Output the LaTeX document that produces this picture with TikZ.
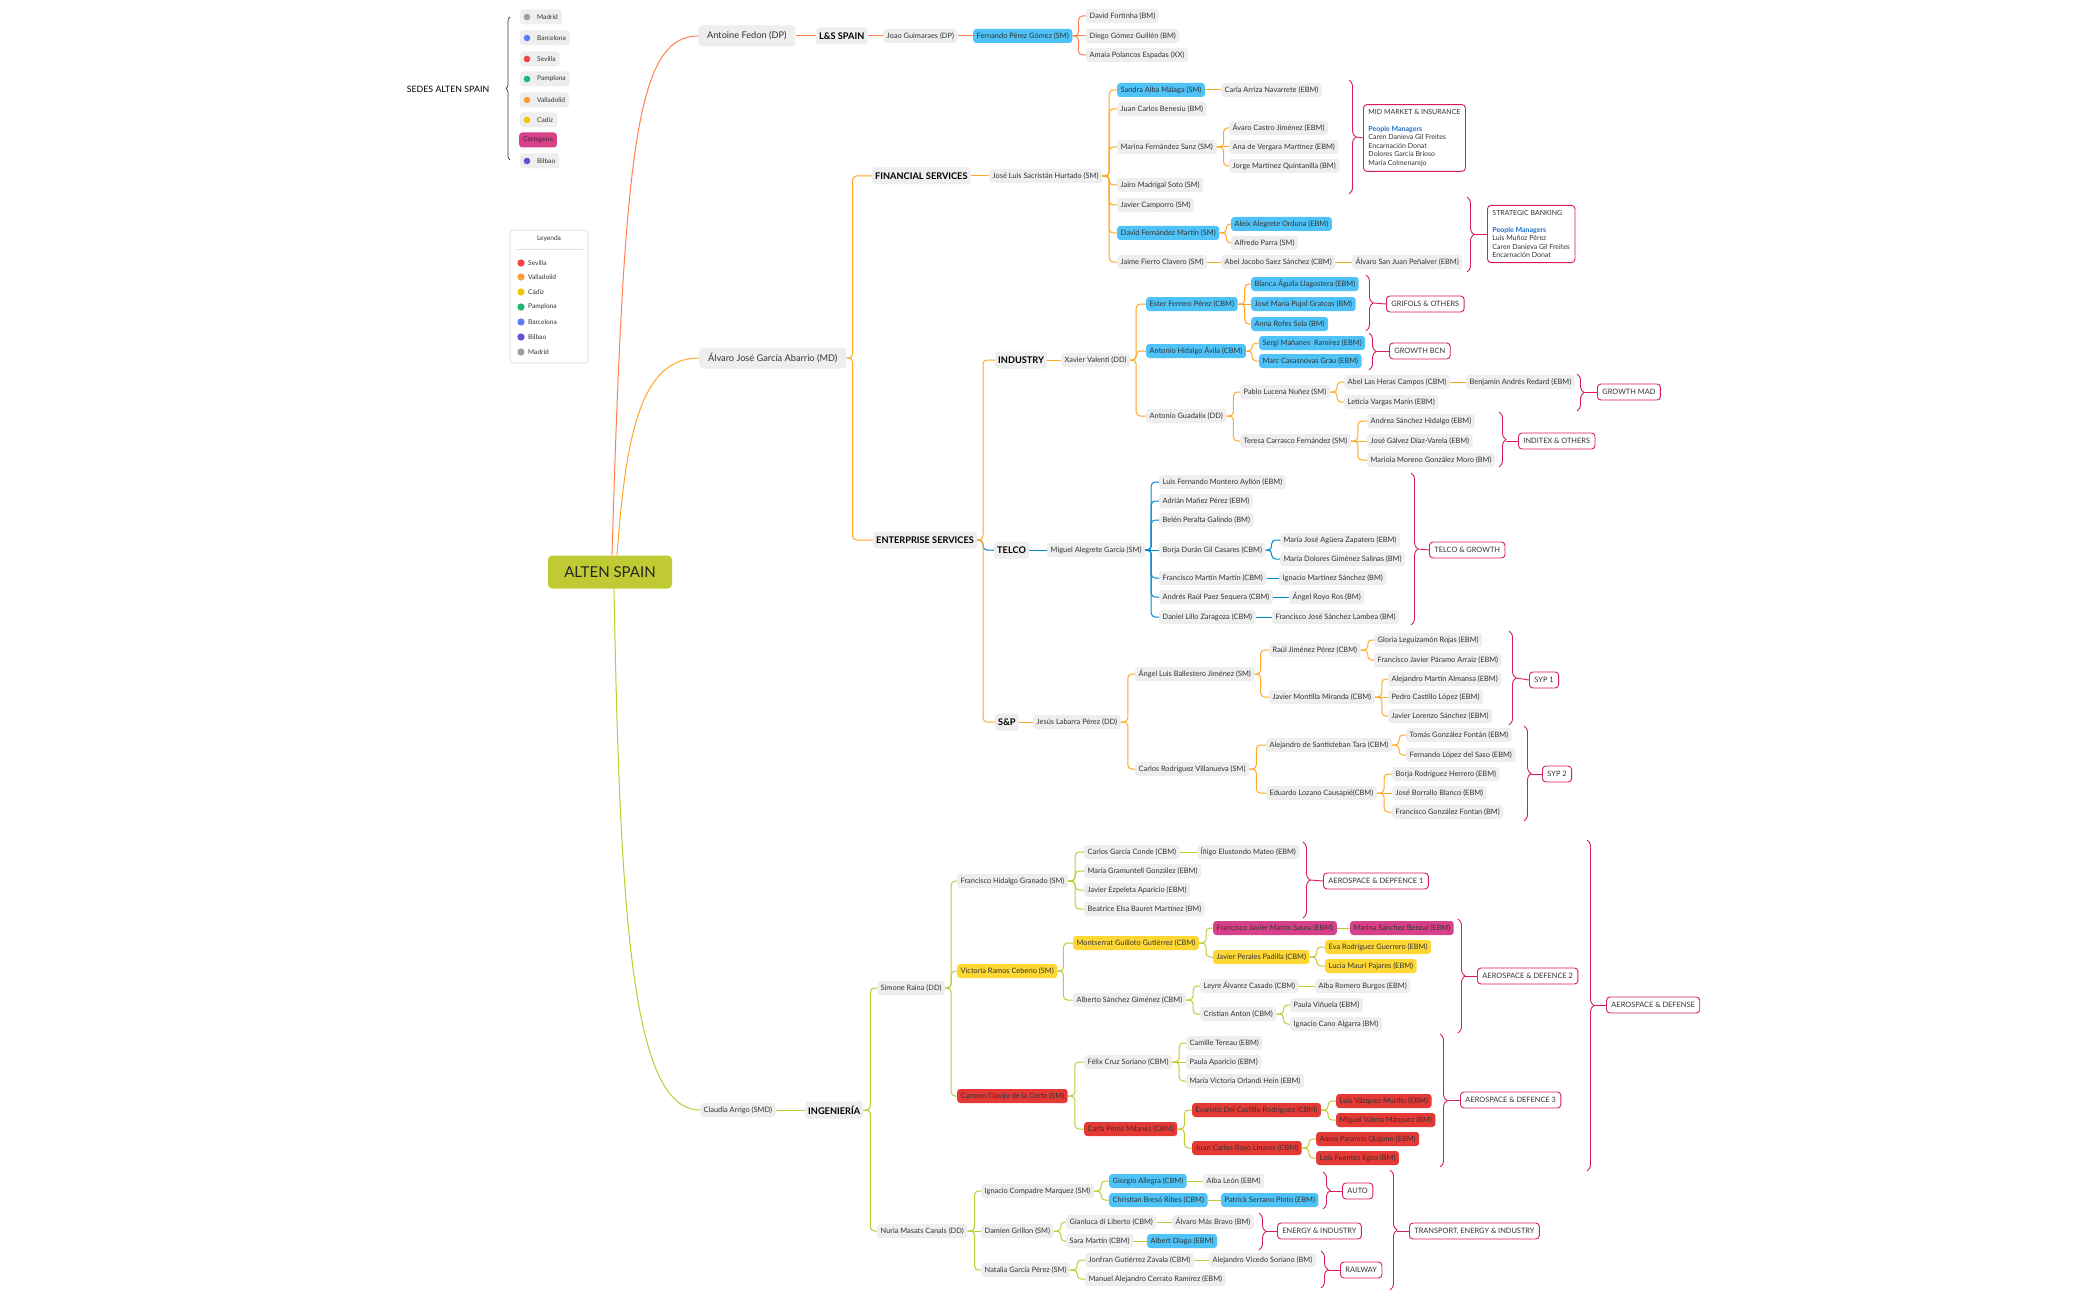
\documentclass[tikz,border=0pt]{standalone}
\usepackage{fontspec}
\setmainfont{Lato}
\usepackage{xcolor}
\usepackage{tikz}
\usetikzlibrary{decorations.pathreplacing}

\definecolor{boxgray}{HTML}{EEEEEE}
\definecolor{txtgray}{HTML}{333333}
\definecolor{skyfill}{HTML}{4FC3F7}
\definecolor{sunfill}{HTML}{FDD835}
\definecolor{redfill}{HTML}{E53935}
\definecolor{magfill}{HTML}{D6418A}
\definecolor{tagpink}{HTML}{D81B60}
\definecolor{pmblue}{HTML}{1E70C8}
\definecolor{coralline}{HTML}{FF7F50}
\definecolor{amberline}{HTML}{FFA726}
\definecolor{telblue}{HTML}{0288D1}
\definecolor{limeline}{HTML}{C0CA33}
\definecolor{cgray}{HTML}{9E9E9E}
\definecolor{cblue}{HTML}{5C7CFA}
\definecolor{cred}{HTML}{F44242}
\definecolor{cgreen}{HTML}{1DB574}
\definecolor{corange}{HTML}{FF9A3C}
\definecolor{cyellow}{HTML}{F2C500}
\definecolor{cpurple}{HTML}{6B4BCF}

\begin{document}
\begin{tikzpicture}[x=1pt, y=-1pt,
  pp/.style={fill=boxgray, rounded corners=3pt, anchor=west, font=\fontsize{7.4}{8.5}\selectfont, text=txtgray, inner xsep=3.5pt, inner ysep=1pt, minimum height=14pt},
  pblue/.style={pp, fill=skyfill},
  pyel/.style={pp, fill=sunfill},
  pred/.style={pp, fill=redfill},
  pmag/.style={pp, fill=magfill},
  lead/.style={pp, font=\fontsize{9.2}{10.5}\selectfont, inner xsep=9pt, minimum height=21pt, rounded corners=4pt},
  area/.style={pp, font=\fontsize{9.2}{10.5}\selectfont\bfseries, text=black, inner xsep=3pt, minimum height=17pt},
  rootbox/.style={fill=limeline, rounded corners=4pt, minimum width=124pt, minimum height=33pt, font=\fontsize{15}{17}\selectfont, text=black!85},
  tag/.style={draw=tagpink, line width=0.9pt, fill=white, rounded corners=3.5pt, anchor=west, font=\fontsize{7.4}{8.5}\selectfont, text=txtgray, inner xsep=5pt, minimum height=16pt},
  bracket/.style={draw=tagpink, line width=0.9pt, decorate, decoration={brace, amplitude=7pt}},
  tagline/.style={draw=tagpink, line width=0.9pt},
  sede/.style={pp, font=\fontsize{6.6}{7.5}\selectfont, inner xsep=4pt, minimum height=15pt},
  lsline/.style={draw=coralline, line width=1pt, rounded corners=4pt},
  finline/.style={draw=amberline, line width=1pt, rounded corners=4pt},
  telline/.style={draw=telblue, line width=1pt, rounded corners=4pt},
  engline/.style={draw=limeline, line width=1pt, rounded corners=4pt}
]
\fill[white] (0,0) rectangle (2099,1300);
\useasboundingbox (0,0) rectangle (2099,1300);

% sedes
\node[font=\fontsize{8.8}{10}\selectfont, text=black] (sedes) at (448,89) {SEDES ALTEN SPAIN};
\draw[decorate, decoration={brace, amplitude=4pt}, line width=0.7pt, draw=txtgray] (510,160) -- (510,17);
\foreach \nm/\cl/\yy in {Madrid/cgray/17, Barcelona/cblue/38, Sevilla/cred/59, Pamplona/cgreen/79, Valladolid/corange/100, Cadiz/cyellow/120, Bilbao/cpurple/161} {
  \node[sede] (s\nm) at (520,\yy) {\hspace*{13pt}\nm};
  \fill[\cl] ([xshift=7pt]s\nm.west) circle (3.3pt);
}
\node[sede, fill=magfill] (sCartagena) at (519,140) {Cartagena};

% leyenda
\node[draw=gray!30, line width=0.6pt, rounded corners=3pt, minimum width=78pt, minimum height=133pt] (leyenda) at (549,296.5) {};
\node[font=\fontsize{6.6}{7.5}\selectfont, text=txtgray] (leytit) at (549,239) {Leyenda};
\draw[gray!25, line width=0.6pt] (516,249) -- (583,249);
\foreach \nm/\cl/\yy [count=\i] in {Sevilla/cred/263, Valladolid/corange/277, Cádiz/cyellow/292, Pamplona/cgreen/307, Barcelona/cblue/322, Bilbao/cpurple/337, Madrid/cgray/352} {
  \fill[\cl] (521,\yy) circle (3.6pt);
  \node[anchor=west, font=\fontsize{6.6}{7.5}\selectfont, text=txtgray, inner sep=0pt] (ley\i) at (528,\yy) {\nm};
}

% root
\node[rootbox] (alten) at (610,572) {ALTEN SPAIN};

% L&S
\node[lead] (antoine) at (698,36) {Antoine Fedon (DP)};
\node[area] (ls) at (816,36) {L\&S SPAIN};
\node[pp] (joao) at (883,36) {Joao Guimaraes (DP)};
\node[pblue] (fernando) at (973,36) {Fernando Pérez Gómez (SM)};
\node[pp] (dfortinha) at (1086,16) {David Fortinha (BM)};
\node[pp] (dgomez) at (1086,36) {Diego Gómez Guillén (BM)};
\node[pp] (apolancos) at (1086,55) {Amaia Polancos Espadas (XX)};

% financial services
\node[lead] (alvaro) at (699,358) {Álvaro José García Abarrio (MD)};
\node[area] (finserv) at (872,176) {FINANCIAL SERVICES};
\node[pp] (sacristan) at (989,176) {José Luis Sacristán Hurtado (SM)};
\node[pblue] (sandra) at (1117,90) {Sandra Alba Málaga (SM)};
\node[pp] (benesiu) at (1117,109) {Juan Carlos Benesiu (BM)};
\node[pp] (marinaf) at (1117,147) {Marina Fernández Sanz (SM)};
\node[pp] (jairo) at (1117,185) {Jairo Madrigal Soto (SM)};
\node[pp] (camporro) at (1117,205) {Javier Camporro (SM)};
\node[pblue] (davidf) at (1117,233) {David Fernández Martín (SM)};
\node[pp] (jaime) at (1117,262) {Jaime Fierro Clavero (SM)};
\node[pp] (carla) at (1221,90) {Carla Arriza Navarrete (EBM)};
\node[pp] (avaro) at (1229,128) {Ávaro Castro Jiménez (EBM)};
\node[pp] (anav) at (1229,147) {Ana de Vergara Martínez (EBM)};
\node[pp] (jorgem) at (1229,166) {Jorge Martínez Quintanilla (BM)};
\node[pblue] (aleix) at (1231,224) {Aleix Alegrete Orduna (EBM)};
\node[pp] (alfredo) at (1231,243) {Alfredo Parra (SM)};
\node[pp] (abelj) at (1221,262) {Abel Jacobo Saez Sánchez (CBM)};
\node[pp] (alvarosj) at (1352,262) {Álvaro San Juan Peñalver (EBM)};

\draw[bracket] (1349,80) -- (1349,194);
\coordinate (midTip) at (1356,137);
\node[tag, align=left, inner ysep=5pt, font=\fontsize{7}{8.4}\selectfont] (midmkt) at (1363,138)
  {MID MARKET \& INSURANCE\\[8.4pt]\textcolor{pmblue}{\bfseries People Managers}\\Caren Danieva Gil Freites\\Encarnación Donat\\Dolores García Brioso\\María Colmenarejo};
\draw[bracket] (1467,197) -- (1467,272);
\coordinate (stratTip) at (1474,234);
\node[tag, align=left, inner ysep=5pt, font=\fontsize{7}{8.4}\selectfont] (strat) at (1487,234)
  {STRATEGIC BANKING\\[8.4pt]\textcolor{pmblue}{\bfseries People Managers}\\Luis Muñoz Pérez\\Caren Danieva Gil Freites\\Encarnación Donat};

% enterprise services
\node[area] (entserv) at (873,540) {ENTERPRISE SERVICES};

% industry
\node[area] (industry) at (995,360) {INDUSTRY};
\node[pp] (valenti) at (1061,360) {Xavier Valenti (DD)};
\node[pblue] (esterf) at (1146,304) {Ester Ferrero Pérez (CBM)};
\node[pblue] (antonioh) at (1146,351) {Antonio Hidalgo Ávila (CBM)};
\node[pp] (guadalix) at (1146,416) {Antonio Guadalix (DD)};
\node[pblue] (blanca) at (1251,284) {Blanca Águila Llagostera (EBM)};
\node[pblue] (pujol) at (1251,304) {José María Pujol Gratcos (BM)};
\node[pblue] (rofes) at (1251,324) {Anna Rofes Sola (BM)};
\node[pblue] (sergi) at (1259,343) {Sergi Mañanes~ Ramírez (EBM)};
\node[pblue] (marc) at (1259,361) {Marc Casasnovas Grau (EBM)};
\node[pp] (pablo) at (1240,392) {Pablo Lucena Nuñez (SM)};
\node[pp] (teresa) at (1240,441) {Teresa Carrasco Fernández (SM)};
\node[pp] (abelh) at (1344,382) {Abel Las Heras Campos (CBM)};
\node[pp] (leticia) at (1344,402) {Leticia Vargas Marín (EBM)};
\node[pp] (benjamin) at (1466,382) {Benjamin Andrés Redard (EBM)};
\node[pp] (andrea) at (1367,421) {Andrea Sánchez Hidalgo (EBM)};
\node[pp] (galvez) at (1367,441) {José Gálvez Díaz-Varela (EBM)};
\node[pp] (mariola) at (1367,460) {Mariola Moreno González Moro (BM)};

\draw[bracket] (1366,275) -- (1366,331);
\coordinate (grifTip) at (1373,303);
\node[tag] (grifols) at (1386,304) {GRIFOLS \& OTHERS};
\draw[bracket] (1369,333) -- (1369,370);
\coordinate (bcnTip) at (1376,351);
\node[tag] (growbcn) at (1389,351) {GROWTH BCN};
\draw[bracket] (1577,374) -- (1577,411);
\coordinate (madTip) at (1584,392);
\node[tag] (growmad) at (1597,392) {GROWTH MAD};
\draw[bracket] (1499,412) -- (1499,467);
\coordinate (inditTip) at (1506,441);
\node[tag] (inditex) at (1518,441) {INDITEX \& OTHERS};

% telco
\node[area] (telco) at (994,550) {TELCO};
\node[pp] (miguel) at (1047,550) {Miguel Alegrete García (SM)};
\node[pp] (luisf) at (1159,482) {Luis Fernando Montero Ayllón (EBM)};
\node[pp] (adrian) at (1159,501) {Adrián Mañez Pérez (EBM)};
\node[pp] (belen) at (1159,520) {Belén Peralta Galindo (BM)};
\node[pp] (borjad) at (1159,550) {Borja Durán Gil Casares (CBM)};
\node[pp] (franm) at (1159,578) {Francisco Martín Martín (CBM)};
\node[pp] (andres) at (1159,597) {Andrés Raúl Paez Sequera (CBM)};
\node[pp] (daniel) at (1159,617) {Daniel Lillo Zaragoza (CBM)};
\node[pp] (mjaguera) at (1280,540) {María José Agüera Zapatero (EBM)};
\node[pp] (mdgimenez) at (1280,559) {María Dolores Giménez Salinas (BM)};
\node[pp] (ignaciom) at (1279,578) {Ignacio Martínez Sánchez (BM)};
\node[pp] (angelr) at (1289,597) {Ángel Royo Ros (BM)};
\node[pp] (fjlambea) at (1272,617) {Francisco José Sánchez Lambea (BM)};

\draw[bracket] (1411,473) -- (1411,625);
\coordinate (telTip) at (1418,549);
\node[tag] (telgrowth) at (1429,550) {TELCO \& GROWTH};

% s&p
\node[area] (syp) at (995,722) {S\&P};
\node[pp] (labarra) at (1033,722) {Jesús Labarra Pérez (DD)};
\node[pp] (angelb) at (1135,674) {Ángel Luis Ballestero Jiménez (SM)};
\node[pp] (carlosr) at (1135,769) {Carlos Rodríguez Villanueva (SM)};
\node[pp] (raulj) at (1269,650) {Raúl Jiménez Pérez (CBM)};
\node[pp] (montilla) at (1269,697) {Javier Montilla Miranda (CBM)};
\node[pp] (gloria) at (1374,640) {Gloria Leguizamón Rojas (EBM)};
\node[pp] (paramo) at (1374,660) {Francisco Javier Páramo Arraiz (EBM)};
\node[pp] (almansa) at (1388,679) {Alejandro Martín Almansa (EBM)};
\node[pp] (castillo) at (1388,697) {Pedro Castillo López (EBM)};
\node[pp] (lorenzo) at (1388,716) {Javier Lorenzo Sánchez (EBM)};
\node[pp] (santisteban) at (1266,745) {Alejandro de Santisteban Tara (CBM)};
\node[pp] (lozano) at (1266,793) {Eduardo Lozano Causapié(CBM)};
\node[pp] (tomas) at (1406,735) {Tomás González Fontán (EBM)};
\node[pp] (saso) at (1406,755) {Fernando López del Saso (EBM)};
\node[pp] (borjar) at (1392,774) {Borja Rodríguez Herrero (EBM)};
\node[pp] (borrallo) at (1392,793) {José Borrallo Blanco (EBM)};
\node[pp] (fgfontan) at (1392,812) {Francisco González Fontan (BM)};

\draw[bracket] (1509,631) -- (1509,725);
\coordinate (syp1Tip) at (1516,678);
\node[tag] (syp1) at (1529,680) {SYP 1};
\draw[bracket] (1524,726) -- (1524,821);
\coordinate (syp2Tip) at (1531,774);
\node[tag] (syp2) at (1542,774) {SYP 2};

% ingenieria
\node[pp] (claudia) at (700,1110) {Claudia Arrigo (SMD)};
\node[area] (ingenieria) at (805,1110) {INGENIERÍA};
\node[pp] (simone) at (877,988) {Simone Raina (DD)};
\node[pp] (nuria) at (877,1231) {Nuria Masats Canals (DD)};
\node[pp] (fhidalgo) at (957,881) {Francisco Hidalgo Granado (SM)};
\node[pyel] (victoria) at (957,971) {Victoria Ramos Ceberio (SM)};
\node[pred] (carmen) at (957,1096) {Carmen Clavijo de la Corte (SM)};
\node[pp] (cgconde) at (1084,852) {Carlos García Conde (CBM)};
\node[pp] (gramuntell) at (1084,871) {María Gramuntell González (EBM)};
\node[pp] (ezpeleta) at (1084,890) {Javier Ezpeleta Aparicio (EBM)};
\node[pp] (bauret) at (1084,909) {Beatrice Elsa Bauret Martínez (BM)};
\node[pp] (inigo) at (1197,852) {Íñigo Elustondo Mateo (EBM)};
\node[pyel] (montserrat) at (1073,943) {Montserrat Guilloto Gutiérrez (CBM)};
\node[pp] (alberto) at (1073,1000) {Alberto Sánchez Giménez (CBM)};
\node[pmag] (fjsaura) at (1213,928) {Francisco Javier Martín Saura (EBM)};
\node[pmag] (benzal) at (1350,928) {Marina Sánchez Benzal (EBM)};
\node[pyel] (perales) at (1213,957) {Javier Perales Padilla (CBM)};
\node[pyel] (eva) at (1325,947) {Eva Rodríguez Guerrero (EBM)};
\node[pyel] (lucia) at (1325,966) {Lucía Mauri Pajares (EBM)};
\node[pp] (leyre) at (1200,986) {Leyre Álvarez Casado (CBM)};
\node[pp] (cristian) at (1200,1014) {Cristian Anton (CBM)};
\node[pp] (albar) at (1315,986) {Alba Romero Burgos (EBM)};
\node[pp] (vinuela) at (1290,1005) {Paula Viñuela (EBM)};
\node[pp] (cano) at (1290,1024) {Ignacio Cano Algarra (BM)};
\node[pp] (felix) at (1084,1062) {Félix Cruz Soriano (CBM)};
\node[pred] (carlap) at (1084,1129) {Carla Pérez Milanés (CBM)};
\node[pp] (camille) at (1186,1043) {Camille Tereau (EBM)};
\node[pp] (paulaa) at (1186,1062) {Paula Aparicio (EBM)};
\node[pp] (orlandi) at (1186,1081) {María Victoria Orlandi Hein (EBM)};
\node[pred] (evaristo) at (1192,1110) {Evaristo Del Castillo Rodríguez (CBM)};
\node[pred] (rayo) at (1192,1148) {Juan Carlos Rayo Linares (CBM)};
\node[pred] (vazquez) at (1336,1101) {Luis Vázquez Murillo (EBM)};
\node[pred] (valera) at (1336,1120) {Miguel Valera Márquez (BM)};
\node[pred] (amos) at (1316,1139) {Amos Paramio Quijano (EBM)};
\node[pred] (lola) at (1316,1158) {Lola Fuentes Egea (BM)};
\node[pp] (compadre) at (981,1191) {Ignacio Compadre Marquez (SM)};
\node[pp] (grillon) at (981,1231) {Damien Grillon (SM)};
\node[pp] (natalia) at (981,1270) {Natalia García Pérez (SM)};
\node[pblue] (giorgio) at (1109,1181) {Giorgio Allegra (CBM)};
\node[pblue] (breso) at (1109,1200) {Christian Bresó Ribes (CBM)};
\node[pp] (albal) at (1203,1181) {Alba León (EBM)};
\node[pblue] (patrick) at (1221,1200) {Patrick Serrano Pinto (EBM)};
\node[pp] (gianluca) at (1066,1222) {Gianluca di Liberto (CBM)};
\node[pp] (saram) at (1066,1241) {Sara Martín (CBM)};
\node[pp] (alvarom) at (1172,1222) {Álvaro Más Bravo (BM)};
\node[pblue] (albert) at (1147,1241) {Albert Diago (EBM)};
\node[pp] (jonfran) at (1085,1260) {Jonfran Gutiérrez Zavala (CBM)};
\node[pp] (cerrato) at (1085,1279) {Manuel Alejandro Cerrato Ramírez (EBM)};
\node[pp] (vicedo) at (1209,1260) {Alejandro Vicedo Soriano (BM)};

\draw[bracket] (1303,842) -- (1303,918);
\coordinate (ad1Tip) at (1310,880);
\node[tag] (ad1) at (1323,881) {AEROSPACE \& DEPFENCE 1};
\draw[bracket] (1458,919) -- (1458,1033);
\coordinate (ad2Tip) at (1465,976);
\node[tag] (ad2) at (1477,976) {AEROSPACE \& DEFENCE 2};
\draw[bracket] (1440,1034) -- (1440,1167);
\coordinate (ad3Tip) at (1447,1100);
\node[tag] (ad3) at (1460,1100) {AEROSPACE \& DEFENCE 3};
\draw[bracket] (1587,840) -- (1587,1171);
\coordinate (adTip) at (1594,1005);
\node[tag] (adall) at (1606,1005) {AEROSPACE \& DEFENSE};
\draw[bracket] (1323,1172) -- (1323,1209);
\coordinate (autoTip) at (1330,1191);
\node[tag] (auto) at (1342,1191) {AUTO};
\draw[bracket] (1259,1213) -- (1259,1250);
\coordinate (enerTip) at (1266,1231);
\node[tag] (energy) at (1277,1231) {ENERGY \& INDUSTRY};
\draw[bracket] (1321,1251) -- (1321,1288);
\coordinate (railTip) at (1328,1270);
\node[tag] (railway) at (1340,1270) {RAILWAY};
\draw[bracket] (1390,1170) -- (1390,1290);
\coordinate (tranTip) at (1397,1231);
\node[tag] (transport) at (1409,1231) {TRANSPORT, ENERGY \& INDUSTRY};

% tag ticks
\foreach \a/\b in {midTip/midmkt, stratTip/strat, grifTip/grifols, bcnTip/growbcn, madTip/growmad, inditTip/inditex, telTip/telgrowth, syp1Tip/syp1, syp2Tip/syp2, ad1Tip/ad1, ad2Tip/ad2, ad3Tip/ad3, adTip/adall, autoTip/auto, enerTip/energy, railTip/railway, tranTip/transport}
  \draw[tagline] (\a) -- (\b.west);

% main branches
\draw[lsline] ([xshift=2pt]alten.north) .. controls (624,150) and (636,36) .. (antoine.west);
\draw[finline] ([xshift=7pt]alten.north) .. controls (626,430) and (642,358) .. (alvaro.west);
\draw[engline] ([xshift=4pt]alten.south) .. controls (620,920) and (632,1110) .. (claudia.west);

% l&s links
\draw[lsline] (antoine.east) -- (ls.west);
\draw[lsline] (ls.east) -- (joao.west);
\draw[lsline] (joao.east) -- (fernando.west);
\draw[lsline] (fernando.east) -- (dgomez.west);
\foreach \k in {dfortinha,apolancos} \draw[lsline] (fernando.east) -- ++(6,0) |- (\k.west);

% financial links
\foreach \k in {finserv,entserv} \draw[finline] (alvaro.east) -- ++(6,0) |- (\k.west);
\draw[finline] (finserv.east) -- (sacristan.west);
\foreach \k in {sandra,benesiu,marinaf,jairo,camporro,davidf,jaime} \draw[finline] (sacristan.east) -- ++(7,0) |- (\k.west);
\draw[finline] (sandra.east) -- (carla.west);
\draw[finline] (marinaf.east) -- (anav.west);
\foreach \k in {avaro,jorgem} \draw[finline] (marinaf.east) -- ++(7,0) |- (\k.west);
\foreach \k in {aleix,alfredo} \draw[finline] (davidf.east) -- ++(7,0) |- (\k.west);
\draw[finline] (jaime.east) -- (abelj.west);
\draw[finline] (abelj.east) -- (alvarosj.west);

% enterprise links
\draw[telline] (entserv.east) -- ++(6,0) |- (telco.west);
\foreach \k in {industry,syp} \draw[finline] (entserv.east) -- ++(6,0) |- (\k.west);
\draw[finline] (industry.east) -- (valenti.west);
\foreach \k in {esterf,antonioh,guadalix} \draw[finline] (valenti.east) -- ++(6,0) |- (\k.west);
\draw[finline] (esterf.east) -- (pujol.west);
\foreach \k in {blanca,rofes} \draw[finline] (esterf.east) -- ++(7,0) |- (\k.west);
\foreach \k in {sergi,marc} \draw[finline] (antonioh.east) -- ++(6,0) |- (\k.west);
\foreach \k in {pablo,teresa} \draw[finline] (guadalix.east) -- ++(7,0) |- (\k.west);
\foreach \k in {abelh,leticia} \draw[finline] (pablo.east) -- ++(7,0) |- (\k.west);
\draw[finline] (abelh.east) -- (benjamin.west);
\draw[finline] (teresa.east) -- (galvez.west);
\foreach \k in {andrea,mariola} \draw[finline] (teresa.east) -- ++(7,0) |- (\k.west);

\draw[telline] (telco.east) -- (miguel.west);
\draw[telline] (miguel.east) -- (borjad.west);
\foreach \k in {luisf,adrian,belen,franm,andres,daniel} \draw[telline] (miguel.east) -- ++(6,0) |- (\k.west);
\foreach \k in {mjaguera,mdgimenez} \draw[telline] (borjad.east) -- ++(6,0) |- (\k.west);
\draw[telline] (franm.east) -- (ignaciom.west);
\draw[telline] (andres.east) -- (angelr.west);
\draw[telline] (daniel.east) -- (fjlambea.west);

\draw[finline] (syp.east) -- (labarra.west);
\foreach \k in {angelb,carlosr} \draw[finline] (labarra.east) -- ++(7,0) |- (\k.west);
\foreach \k in {raulj,montilla} \draw[finline] (angelb.east) -- ++(6,0) |- (\k.west);
\foreach \k in {gloria,paramo} \draw[finline] (raulj.east) -- ++(7,0) |- (\k.west);
\draw[finline] (montilla.east) -- (castillo.west);
\foreach \k in {almansa,lorenzo} \draw[finline] (montilla.east) -- ++(7,0) |- (\k.west);
\foreach \k in {santisteban,lozano} \draw[finline] (carlosr.east) -- ++(7,0) |- (\k.west);
\foreach \k in {tomas,saso} \draw[finline] (santisteban.east) -- ++(7,0) |- (\k.west);
\draw[finline] (lozano.east) -- (borrallo.west);
\foreach \k in {borjar,fgfontan} \draw[finline] (lozano.east) -- ++(7,0) |- (\k.west);

% ingenieria links
\draw[engline] (claudia.east) -- (ingenieria.west);
\foreach \k in {simone,nuria} \draw[engline] (ingenieria.east) -- ++(7,0) |- (\k.west);
\foreach \k in {fhidalgo,victoria,carmen} \draw[engline] (simone.east) -- ++(6,0) |- (\k.west);
\foreach \k in {cgconde,gramuntell,ezpeleta,bauret} \draw[engline] (fhidalgo.east) -- ++(7,0) |- (\k.west);
\draw[engline] (cgconde.east) -- (inigo.west);
\foreach \k in {montserrat,alberto} \draw[engline] (victoria.east) -- ++(6,0) |- (\k.west);
\foreach \k in {fjsaura,perales} \draw[engline] (montserrat.east) -- ++(7,0) |- (\k.west);
\draw[engline] (fjsaura.east) -- (benzal.west);
\foreach \k in {eva,lucia} \draw[engline] (perales.east) -- ++(7,0) |- (\k.west);
\foreach \k in {leyre,cristian} \draw[engline] (alberto.east) -- ++(7,0) |- (\k.west);
\draw[engline] (leyre.east) -- (albar.west);
\foreach \k in {vinuela,cano} \draw[engline] (cristian.east) -- ++(7,0) |- (\k.west);
\foreach \k in {felix,carlap} \draw[engline] (carmen.east) -- ++(7,0) |- (\k.west);
\draw[engline] (felix.east) -- (paulaa.west);
\foreach \k in {camille,orlandi} \draw[engline] (felix.east) -- ++(7,0) |- (\k.west);
\foreach \k in {evaristo,rayo} \draw[engline] (carlap.east) -- ++(7,0) |- (\k.west);
\foreach \k in {vazquez,valera} \draw[engline] (evaristo.east) -- ++(7,0) |- (\k.west);
\foreach \k in {amos,lola} \draw[engline] (rayo.east) -- ++(7,0) |- (\k.west);
\draw[engline] (nuria.east) -- (grillon.west);
\foreach \k in {compadre,natalia} \draw[engline] (nuria.east) -- ++(7,0) |- (\k.west);
\foreach \k in {giorgio,breso} \draw[engline] (compadre.east) -- ++(7,0) |- (\k.west);
\draw[engline] (giorgio.east) -- (albal.west);
\draw[engline] (breso.east) -- (patrick.west);
\foreach \k in {gianluca,saram} \draw[engline] (grillon.east) -- ++(7,0) |- (\k.west);
\draw[engline] (gianluca.east) -- (alvarom.west);
\draw[engline] (saram.east) -- (albert.west);
\foreach \k in {jonfran,cerrato} \draw[engline] (natalia.east) -- ++(7,0) |- (\k.west);
\draw[engline] (jonfran.east) -- (vicedo.west);
\end{tikzpicture}
\end{document}
